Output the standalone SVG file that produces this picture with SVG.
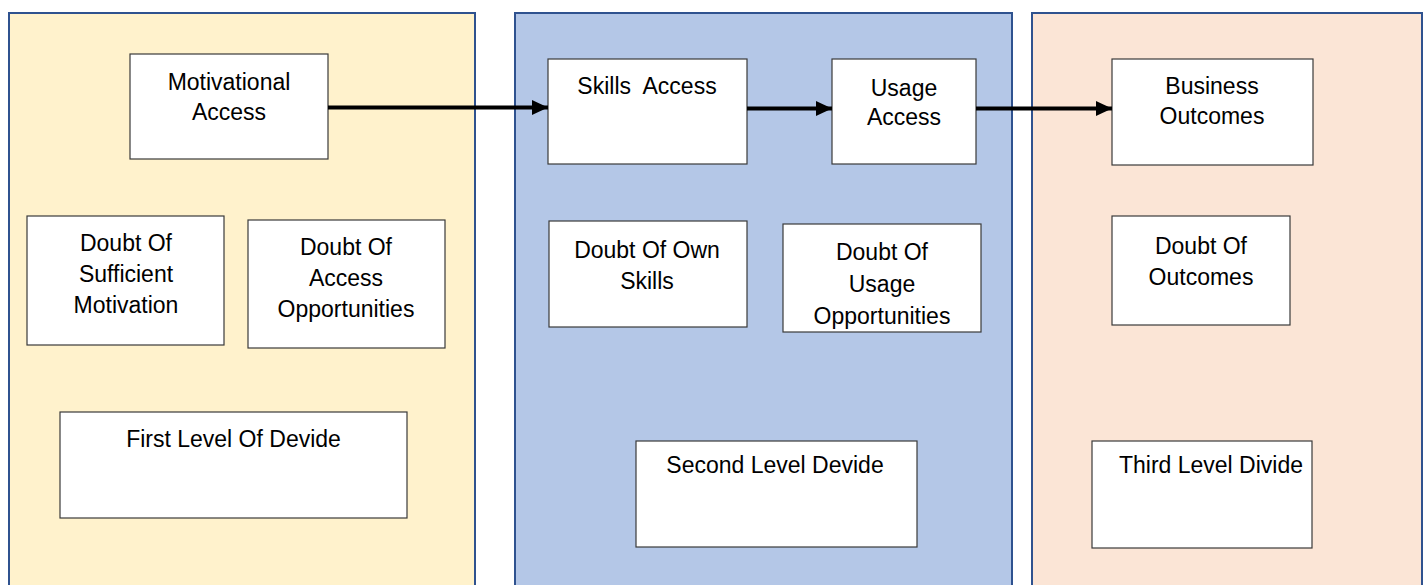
<svg xmlns="http://www.w3.org/2000/svg" width="1428" height="585" viewBox="0 0 1428 585">
<style>
.panel{stroke:#2F528F;stroke-width:2}
.box{fill:#FFFFFF;stroke:#3A3A3A;stroke-width:1.2}
.t{font-family:"Liberation Sans",Arial,sans-serif;font-size:23px;fill:#000;text-anchor:middle;white-space:pre}
.conn{stroke:#000;stroke-width:4;fill:none}
</style>
<defs>
<marker id="ah" markerUnits="userSpaceOnUse" markerWidth="17" markerHeight="17" viewBox="0 0 17 17" refX="16" refY="8.5" orient="auto">
<path d="M0,1 L16,8.5 L0,16 Z" fill="#000"/>
</marker>
</defs>
<rect width="1428" height="585" fill="#FFFFFF"/>
<g id="panel1"><rect class="panel" x="9" y="13" width="466" height="590" fill="#FFF2CC"/></g>
<g id="panel2"><rect class="panel" x="515" y="13" width="497" height="590" fill="#B4C7E7"/></g>
<g id="panel3"><rect class="panel" x="1032" y="13" width="390" height="590" fill="#FBE5D6"/></g>

<g id="motivational-access"><rect class="box" x="130" y="54" width="198" height="105"/>
<text class="t" x="229" y="90">Motivational</text><text class="t" x="229" y="120">Access</text></g>
<g id="skills-access"><rect class="box" x="548" y="59" width="199" height="105"/>
<text class="t" x="647" y="94">Skills  Access</text></g>
<g id="usage-access"><rect class="box" x="832" y="59" width="144" height="105"/>
<text class="t" x="904" y="96">Usage</text><text class="t" x="904" y="125">Access</text></g>
<g id="business-outcomes"><rect class="box" x="1112" y="59" width="201" height="106"/>
<text class="t" x="1212" y="94">Business</text><text class="t" x="1212" y="124">Outcomes</text></g>

<g id="doubt-motivation"><rect class="box" x="27" y="216" width="197" height="129"/>
<text class="t" x="126" y="251">Doubt Of</text><text class="t" x="126" y="282">Sufficient</text><text class="t" x="126" y="313">Motivation</text></g>
<g id="doubt-access"><rect class="box" x="248" y="220" width="197" height="128"/>
<text class="t" x="346" y="255">Doubt Of</text><text class="t" x="346" y="286">Access</text><text class="t" x="346" y="317">Opportunities</text></g>
<g id="doubt-skills"><rect class="box" x="549" y="221" width="198" height="106"/>
<text class="t" x="647" y="258">Doubt Of Own</text><text class="t" x="647" y="289">Skills</text></g>
<g id="doubt-usage"><rect class="box" x="783" y="224" width="198" height="108"/>
<text class="t" x="882" y="260">Doubt Of</text><text class="t" x="882" y="292">Usage</text><text class="t" x="882" y="324">Opportunities</text></g>
<g id="doubt-outcomes"><rect class="box" x="1112" y="216" width="178" height="109"/>
<text class="t" x="1201" y="254">Doubt Of</text><text class="t" x="1201" y="285">Outcomes</text></g>

<g id="first-level"><rect class="box" x="60" y="412" width="347" height="106"/>
<text class="t" x="233.5" y="447">First Level Of Devide</text></g>
<g id="second-level"><rect class="box" x="636" y="441" width="281" height="106"/>
<text class="t" x="775" y="473">Second Level Devide</text></g>
<g id="third-level"><rect class="box" x="1092" y="441" width="220" height="107"/>
<text class="t" x="1211" y="473">Third Level Divide</text></g>

<g id="connectors">
<line class="conn" x1="328" y1="107.5" x2="548" y2="107.5" marker-end="url(#ah)"/>
<line class="conn" x1="747" y1="108.5" x2="832" y2="108.5" marker-end="url(#ah)"/>
<line class="conn" x1="976" y1="108.5" x2="1112" y2="108.5" marker-end="url(#ah)"/>
</g>
</svg>
